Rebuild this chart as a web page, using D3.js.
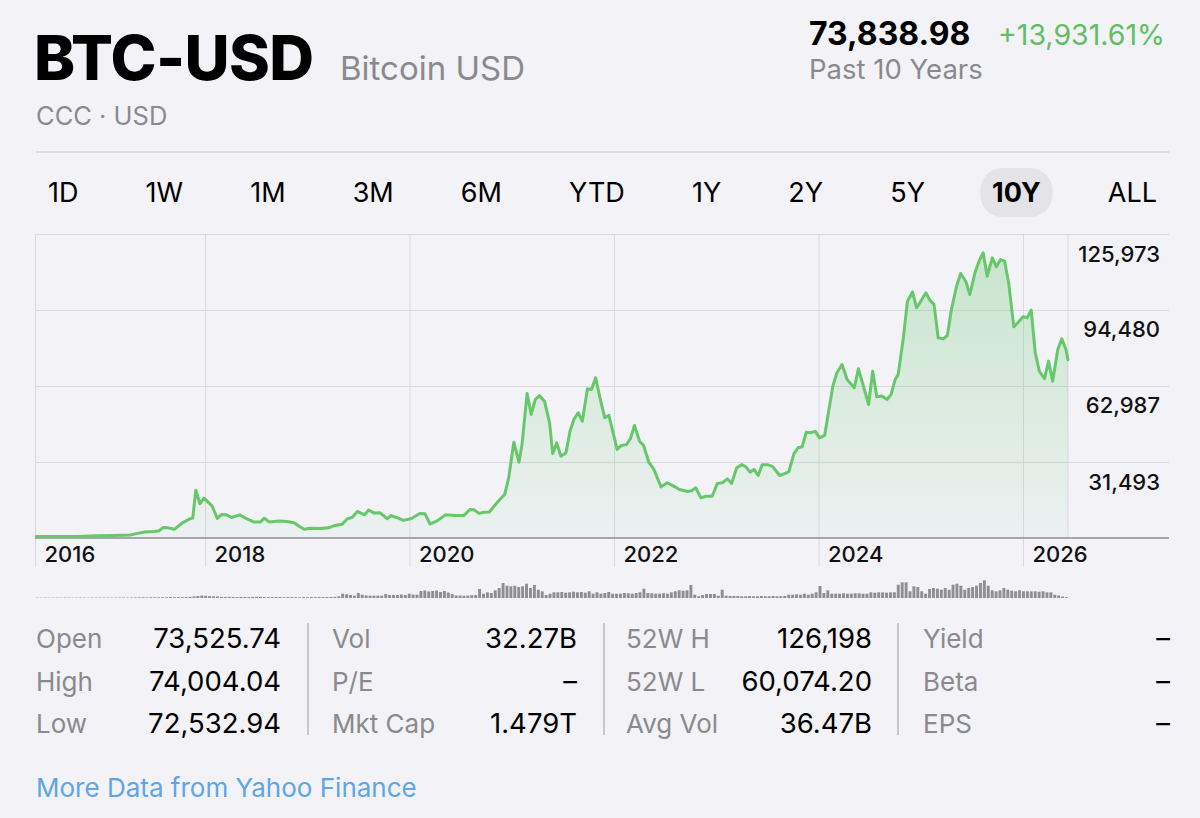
<!DOCTYPE html>
<html>
<head>
<meta charset="utf-8">
<script src="https://cdn.jsdelivr.net/npm/d3@7"></script>
<style>
    html, body { margin: 0; padding: 0; background: #f2f2f7; }
    svg { display: block; font-family: Inter, "Noto Sans", sans-serif; }
</style>
</head>
<body>
<main></main>
<script>
// Price samples, decimal years and closing values (USD)
const priceYears = [
    2016.35, 2016.45, 2016.61, 2016.75, 2016.94, 2017.10, 2017.20, 2017.27, 2017.33, 2017.41,
    2017.46, 2017.51, 2017.55, 2017.59, 2017.64, 2017.70, 2017.78, 2017.85, 2017.88, 2017.91,
    2017.95, 2017.99, 2018.07, 2018.12, 2018.16, 2018.21, 2018.26, 2018.34, 2018.41, 2018.48,
    2018.54, 2018.58, 2018.63, 2018.72, 2018.80, 2018.87, 2018.92, 2018.97, 2019.03, 2019.13,
    2019.21, 2019.27, 2019.34, 2019.39, 2019.44, 2019.49, 2019.56, 2019.60, 2019.65, 2019.71,
    2019.78, 2019.82, 2019.88, 2019.94, 2020.02, 2020.10, 2020.15, 2020.20, 2020.27, 2020.35,
    2020.44, 2020.53, 2020.59, 2020.63, 2020.68, 2020.73, 2020.78, 2020.87, 2020.93, 2020.97,
    2021.02, 2021.07, 2021.10, 2021.15, 2021.19, 2021.23, 2021.27, 2021.32, 2021.37, 2021.40,
    2021.44, 2021.48, 2021.53, 2021.57, 2021.61, 2021.65, 2021.69, 2021.74, 2021.78, 2021.82,
    2021.87, 2021.91, 2021.95, 2022.03, 2022.07, 2022.12, 2022.16, 2022.20, 2022.25, 2022.29,
    2022.34, 2022.39, 2022.46, 2022.52, 2022.57, 2022.64, 2022.72, 2022.76, 2022.80, 2022.85,
    2022.90, 2022.96, 2023.01, 2023.06, 2023.11, 2023.15, 2023.20, 2023.25, 2023.29, 2023.33,
    2023.37, 2023.41, 2023.45, 2023.50, 2023.55, 2023.62, 2023.67, 2023.71, 2023.76, 2023.80,
    2023.84, 2023.88, 2023.92, 2023.97, 2024.01, 2024.06, 2024.14, 2024.18, 2024.23, 2024.28,
    2024.35, 2024.39, 2024.44, 2024.49, 2024.53, 2024.57, 2024.62, 2024.67, 2024.71, 2024.75,
    2024.78, 2024.83, 2024.87, 2024.92, 2024.96, 2025.00, 2025.05, 2025.09, 2025.13, 2025.17,
    2025.22, 2025.26, 2025.30, 2025.35, 2025.39, 2025.44, 2025.48, 2025.53, 2025.57, 2025.61,
    2025.65, 2025.70, 2025.74, 2025.78, 2025.82, 2025.86, 2025.91, 2025.95, 2026.00, 2026.04,
    2026.08, 2026.12, 2026.16, 2026.21, 2026.25, 2026.29, 2026.34, 2026.38, 2026.42, 2026.44
]
const priceValues = [
    580, 600, 620, 640, 900, 1000, 1150, 1250, 1800, 2500,
    2600, 2700, 3000, 4300, 4200, 3600, 6300, 7900, 8300, 19800,
    14200, 16500, 13200, 8100, 9700, 9600, 8500, 9600, 7900, 6600,
    6600, 8200, 6600, 7000, 6800, 6300, 4900, 3600, 4000, 3900,
    4200, 5200, 5700, 7900, 8600, 11000, 9600, 11600, 10400, 10500,
    8000, 9300, 8400, 7300, 8100, 10150, 10100, 5800, 7100, 9600,
    9300, 9300, 11800, 11700, 10200, 10700, 10800, 15300, 18000, 24900,
    39700, 31400, 38600, 59900, 51200, 57400, 59000, 56700, 47700, 35000,
    39400, 33900, 35300, 44300, 49400, 51900, 48400, 61800, 61500, 66400,
    56700, 49800, 50800, 36700, 38300, 38700, 41100, 46600, 40100, 38300,
    31400, 28400, 21200, 22900, 21800, 20100, 19300, 19600, 20800, 16600,
    17300, 17300, 22600, 22900, 24500, 22600, 29100, 30400, 29500, 27300,
    28400, 25900, 30400, 30400, 29700, 25900, 26700, 27500, 35000, 37400,
    37800, 43800, 43600, 44200, 41500, 42500, 62900, 68500, 71900, 65700,
    62200, 70100, 62900, 55300, 69100, 58500, 58800, 57400, 59500, 65700,
    67800, 83000, 98100, 101900, 95400, 98100, 101600, 98500, 96800, 83000,
    82500, 83900, 94700, 104300, 109600, 106400, 100900, 109900, 114700, 118200,
    108500, 116100, 112400, 115400, 114700, 105700, 87500, 89200, 91700, 91200,
    94400, 76700, 69100, 66000, 73300, 65000, 78100, 82500, 78100, 73839
]
// Volume, billions USD per sample
const volumeValues = [
    1.2, 1.2, 1.4, 1.2, 1.2, 1.4, 1.2, 1.6, 1.4, 1.2, 1.4, 1.6, 1.4, 1.2, 1.6, 1.4, 1.6, 1.8, 1.6, 1.4,
    1.6, 1.8, 2, 1.8, 2, 2.4, 2.6, 2.8, 2.4, 3, 3.2, 2.8, 3.4, 3, 3.6, 3.2, 3.8, 3.4, 4, 4.4,
    6.4, 8, 10, 9.2, 7.6, 6.8, 6, 4.4, 4, 4.8, 4.2, 3.8, 4.4, 4, 3.6, 4.2, 4.6, 4, 3.6, 3.4,
    3.8, 4, 3.6, 3.2, 3.4, 3.6, 3.2, 3, 3.4, 3.2, 3.6, 3.4, 3.8, 3.6, 4, 4.2, 4.6, 6.8, 17.2, 14.8,
    12, 9.2, 20, 13.2, 10.8, 9.2, 9.2, 9.6, 9.2, 16, 12, 12.4, 12, 14, 12, 17.2, 14, 13.2, 28, 30,
    26, 28, 30, 24, 28, 22, 16, 10, 10, 9.2, 10, 11.2, 12, 36, 17.2, 22.8, 20, 30.8, 40, 60,
    49.2, 46.8, 49.2, 44, 46.8, 57.2, 40, 52, 33.2, 26.8, 12, 17.2, 22.8, 22.8, 24, 21.2, 22.8, 25.2, 22.8, 24,
    21.2, 26.8, 17.2, 22.8, 17.2, 20, 24, 17.2, 17.2, 17.2, 20, 18.8, 17.2, 20, 22.8, 37.2, 20, 18.8, 17.2, 17.2,
    18.8, 17.2, 22.8, 26.8, 30.8, 29.2, 30.8, 52, 13.2, 6.8, 12, 16, 16, 16, 9.2, 33.2, 9.2, 8, 8, 8,
    6.8, 6.8, 8, 6.8, 6.8, 8, 6.8, 6.8, 8, 6.8, 7.2, 8, 13.2, 13.2, 14.8, 13.2, 17.2, 13.2, 17.2, 22.8,
    48, 20, 30.8, 17.2, 17.2, 17.2, 18.8, 17.2, 17.2, 18.8, 18.8, 17.2, 17.2, 22.8, 21.2, 22.8, 22.8, 21.2, 22.8, 22.8,
    53.2, 62.8, 62.8, 26.8, 46.8, 44, 26.8, 17.2, 36, 40, 37.2, 33.2, 40, 33.2, 53.2, 57.2, 49.2, 33.2, 40, 44,
    49.2, 60, 70.8, 49.2, 30.8, 26.8, 30.8, 40, 33.2, 29.2, 26.8, 30.8, 26.8, 26.8, 26.4, 26.8, 25.2, 26.8, 22.8, 22.8,
    13.2, 10, 6, 3.2
]
const yTicks = [31493, 62987, 94480, 125973]
const yearTicks = [2018, 2020, 2022, 2024, 2026]
const firstYearLabel = '2016'
const periods = ['1D', '1W', '1M', '3M', '6M', 'YTD', '1Y', '2Y', '5Y', '10Y', 'ALL']
const activePeriod = '10Y'
const statLabels = [
    ['Open', 'High', 'Low'],
    ['Vol', 'P/E', 'Mkt Cap'],
    ['52W H', '52W L', 'Avg Vol'],
    ['Yield', 'Beta', 'EPS']
]
const statValues = [
    ['73,525.74', '74,004.04', '72,532.94'],
    ['32.27B', '–', '1.479T'],
    ['126,198', '60,074.20', '36.47B'],
    ['–', '–', '–']
]

function GeneratePlot() {
    // Configuration
    const width = 1200
    const height = 818
    const plot = { left: 35, right: 1169, top: 234, bottom: 538, gridBottom: 567 }
    const green = '#66c86a'
    const gray = '#8a8a8e'
    const gridColor = '#d9d9de'

    const data = priceYears.map((t, i) => ({ t, v: priceValues[i] }))

    const svg = d3.select('main')
        .append('svg')
        .attr('width', width)
        .attr('height', height)

    svg.append('rect')
        .attr('width', width)
        .attr('height', height)
        .attr('fill', '#f2f2f7')

    // Header
    svg.append('text')
        .attr('x', 34)
        .attr('y', 80)
        .attr('font-size', 62)
        .attr('font-weight', 800)
        .attr('letter-spacing', -0.6)
        .attr('fill', '#000')
        .text('BTC-USD')

    svg.append('text')
        .attr('x', 340)
        .attr('y', 80)
        .attr('font-size', 33)
        .attr('fill', gray)
        .text('Bitcoin USD')

    svg.append('text')
        .attr('x', 36)
        .attr('y', 125)
        .attr('font-size', 25.5)
        .attr('fill', gray)
        .text('CCC · USD')

    svg.append('text')
        .attr('x', 809)
        .attr('y', 45)
        .attr('font-size', 32)
        .attr('font-weight', 700)
        .attr('fill', '#000')
        .text('73,838.98')

    svg.append('text')
        .attr('x', 1165)
        .attr('y', 45)
        .attr('text-anchor', 'end')
        .attr('font-size', 28.5)
        .attr('fill', '#5fbf63')
        .text('+13,931.61%')

    svg.append('text')
        .attr('x', 809)
        .attr('y', 79)
        .attr('font-size', 27.5)
        .attr('fill', gray)
        .text('Past 10 Years')

    svg.append('line')
        .attr('x1', 36)
        .attr('x2', plot.right)
        .attr('y1', 152)
        .attr('y2', 152)
        .attr('stroke', '#d4d4d9')
        .attr('stroke-width', 1.5)

    // Period selector, spread with equal gaps
    const selector = svg.append('g')
    const labels = selector.selectAll('text')
        .data(periods)
        .enter()
        .append('text')
        .attr('y', 202)
        .attr('font-size', 27)
        .attr('font-weight', d => d === activePeriod ? 700 : 400)
        .attr('fill', '#000')
        .text(d => d)
    const widths = labels.nodes().map(n => n.getComputedTextLength())
    const span = 1157 - 48
    const gap = (span - d3.sum(widths)) / (periods.length - 1)
    let cursor = 48
    const starts = widths.map(w => { const s = cursor; cursor += w + gap; return s })
    labels.attr('x', (d, i) => starts[i])
    const ai = periods.indexOf(activePeriod)
    selector.insert('rect', 'text')
        .attr('x', starts[ai] + widths[ai] / 2 - 36)
        .attr('y', 168)
        .attr('width', 72)
        .attr('height', 49)
        .attr('rx', 22)
        .attr('fill', '#e3e3e8')

    // Scales
    const x = d3.scaleLinear()
        .domain([2016.337, 2027.428])
        .range([plot.left, plot.right])
    const y = d3.scaleLinear()
        .domain([0, 125973])
        .range([plot.bottom, plot.top])

    // Horizontal grid + value labels
    const yAxis = svg.append('g')
        .attr('transform', `translate(${plot.right},0)`)
        .call(d3.axisRight(y)
            .tickValues(yTicks)
            .tickSize(-(plot.right - plot.left))
            .tickFormat(d3.format(',')))
    yAxis.select('.domain').remove()
    yAxis.selectAll('line').attr('stroke', gridColor)
    yAxis.selectAll('text')
        .attr('x', -9)
        .attr('y', 27)
        .attr('dy', 0)
        .attr('text-anchor', 'end')
        .attr('font-size', 22)
        .attr('font-weight', 500)
        .attr('font-family', 'Inter, sans-serif')
        .attr('fill', '#111')

    // Vertical grid + year labels
    const xAxis = svg.append('g')
        .attr('transform', `translate(0,${plot.gridBottom})`)
        .call(d3.axisBottom(x)
            .tickValues([x.domain()[0], ...yearTicks])
            .tickSize(-(plot.gridBottom - plot.top))
            .tickFormat((d, i) => i === 0 ? firstYearLabel : d))
    xAxis.select('.domain').remove()
    xAxis.selectAll('line').attr('stroke', gridColor)
    xAxis.selectAll('text')
        .attr('x', 9)
        .attr('y', -5)
        .attr('dy', 0)
        .attr('text-anchor', 'start')
        .attr('font-size', 22)
        .attr('font-weight', 500)
        .attr('font-family', 'Inter, sans-serif')
        .attr('fill', '#111')

    // Marker at the last sample
    const last = data[data.length - 1]
    svg.append('line')
        .attr('x1', x(last.t))
        .attr('x2', x(last.t))
        .attr('y1', plot.top)
        .attr('y2', plot.bottom)
        .attr('stroke', gridColor)

    // Area + line
    const grad = svg.append('defs')
        .append('linearGradient')
        .attr('id', 'fill')
        .attr('gradientUnits', 'userSpaceOnUse')
        .attr('x1', 0).attr('x2', 0)
        .attr('y1', plot.top).attr('y2', plot.bottom)
    grad.append('stop').attr('offset', 0).attr('stop-color', green).attr('stop-opacity', 0.32)
    grad.append('stop').attr('offset', 1).attr('stop-color', green).attr('stop-opacity', 0.04)

    svg.append('path')
        .datum(data)
        .attr('fill', 'url(#fill)')
        .attr('d', d3.area()
            .x(d => x(d.t))
            .y0(y(0))
            .y1(d => y(d.v)))

    svg.append('line')
        .attr('x1', plot.left)
        .attr('x2', plot.right)
        .attr('y1', y(0))
        .attr('y2', y(0))
        .attr('stroke', '#8e8e93')
        .attr('stroke-width', 1.5)

    svg.append('path')
        .datum(data)
        .attr('fill', 'none')
        .attr('stroke', green)
        .attr('stroke-width', 3)
        .attr('stroke-linejoin', 'round')
        .attr('stroke-linecap', 'round')
        .attr('d', d3.line()
            .x(d => x(d.t))
            .y(d => y(d.v)))

    // Volume
    const xv = d3.scaleBand()
        .domain(d3.range(volumeValues.length))
        .range([36, x(last.t)])
        .paddingInner(0.25)
    const yv = d3.scaleLinear()
        .domain([0, 72])
        .range([598, 580])
    svg.append('g')
        .selectAll('rect')
        .data(volumeValues)
        .enter()
        .append('rect')
        .attr('x', (d, i) => xv(i))
        .attr('width', xv.bandwidth())
        .attr('y', d => yv(d))
        .attr('height', d => yv(0) - yv(d))
        .attr('fill', '#8e8e93')

    // Stats table
    const cols = [[36, 281], [332, 577], [626, 872], [923, 1170]]
    const rows = [648, 691, 733]
    const table = svg.append('g')
    statLabels.forEach((col, c) => {
        col.forEach((label, r) => {
            table.append('text')
                .attr('x', cols[c][0])
                .attr('y', rows[r])
                .attr('font-size', 26)
                .attr('fill', gray)
                .text(label)
            table.append('text')
                .attr('x', cols[c][1])
                .attr('y', rows[r])
                .attr('text-anchor', 'end')
                .attr('font-size', 27.5)
                .attr('fill', '#000')
                .text(statValues[c][r])
        })
    })
    ;[308, 604, 898].forEach(dx => {
        table.append('line')
            .attr('x1', dx).attr('x2', dx)
            .attr('y1', 623).attr('y2', 735)
            .attr('stroke', '#c7c7cc')
            .attr('stroke-width', 2)
    })

    svg.append('text')
        .attr('x', 36)
        .attr('y', 797)
        .attr('font-size', 26)
        .attr('fill', '#5ea6e8')
        .text('More Data from Yahoo Finance')
}

GeneratePlot()
</script>
</body>
</html>
